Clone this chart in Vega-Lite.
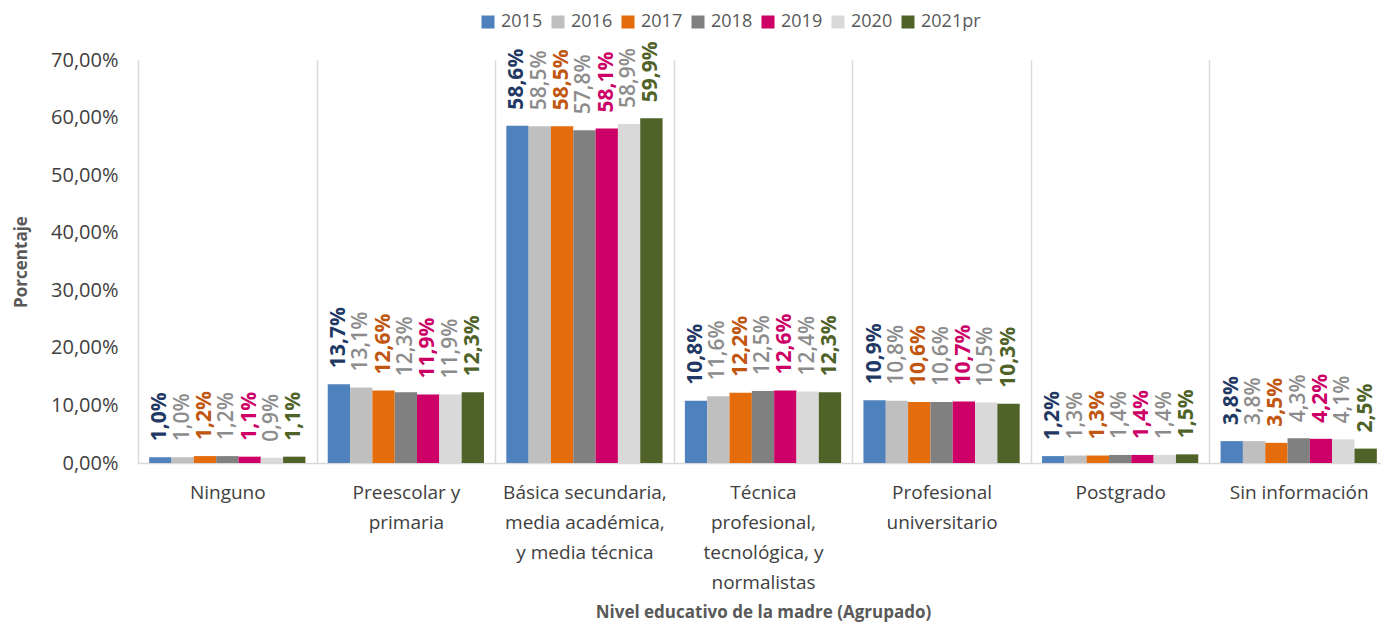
{
  "$schema": "https://vega.github.io/schema/vega-lite/v6.json",
  "width": 1243,
  "height": 403,
  "autosize": "none",
  "padding": {"left": 138, "top": 60, "right": 0, "bottom": 162},
  "config": {
    "locale": {"number": {"decimal": ",", "thousands": ".", "grouping": [3], "currency": ["$", ""]}},
    "font": "Open Sans",
    "view": {"stroke": null}
  },
  "data": {"values": [
    {"nivel": "Ninguno", "anio": "2015", "valor": 0.010},
    {"nivel": "Ninguno", "anio": "2016", "valor": 0.010},
    {"nivel": "Ninguno", "anio": "2017", "valor": 0.012},
    {"nivel": "Ninguno", "anio": "2018", "valor": 0.012},
    {"nivel": "Ninguno", "anio": "2019", "valor": 0.011},
    {"nivel": "Ninguno", "anio": "2020", "valor": 0.009},
    {"nivel": "Ninguno", "anio": "2021pr", "valor": 0.011},
    {"nivel": "Preescolar y primaria", "anio": "2015", "valor": 0.137},
    {"nivel": "Preescolar y primaria", "anio": "2016", "valor": 0.131},
    {"nivel": "Preescolar y primaria", "anio": "2017", "valor": 0.126},
    {"nivel": "Preescolar y primaria", "anio": "2018", "valor": 0.123},
    {"nivel": "Preescolar y primaria", "anio": "2019", "valor": 0.119},
    {"nivel": "Preescolar y primaria", "anio": "2020", "valor": 0.119},
    {"nivel": "Preescolar y primaria", "anio": "2021pr", "valor": 0.123},
    {"nivel": "Básica secundaria, media académica, y media técnica", "anio": "2015", "valor": 0.586},
    {"nivel": "Básica secundaria, media académica, y media técnica", "anio": "2016", "valor": 0.585},
    {"nivel": "Básica secundaria, media académica, y media técnica", "anio": "2017", "valor": 0.585},
    {"nivel": "Básica secundaria, media académica, y media técnica", "anio": "2018", "valor": 0.578},
    {"nivel": "Básica secundaria, media académica, y media técnica", "anio": "2019", "valor": 0.581},
    {"nivel": "Básica secundaria, media académica, y media técnica", "anio": "2020", "valor": 0.589},
    {"nivel": "Básica secundaria, media académica, y media técnica", "anio": "2021pr", "valor": 0.599},
    {"nivel": "Técnica profesional, tecnológica, y normalistas", "anio": "2015", "valor": 0.108},
    {"nivel": "Técnica profesional, tecnológica, y normalistas", "anio": "2016", "valor": 0.116},
    {"nivel": "Técnica profesional, tecnológica, y normalistas", "anio": "2017", "valor": 0.122},
    {"nivel": "Técnica profesional, tecnológica, y normalistas", "anio": "2018", "valor": 0.125},
    {"nivel": "Técnica profesional, tecnológica, y normalistas", "anio": "2019", "valor": 0.126},
    {"nivel": "Técnica profesional, tecnológica, y normalistas", "anio": "2020", "valor": 0.124},
    {"nivel": "Técnica profesional, tecnológica, y normalistas", "anio": "2021pr", "valor": 0.123},
    {"nivel": "Profesional universitario", "anio": "2015", "valor": 0.109},
    {"nivel": "Profesional universitario", "anio": "2016", "valor": 0.108},
    {"nivel": "Profesional universitario", "anio": "2017", "valor": 0.106},
    {"nivel": "Profesional universitario", "anio": "2018", "valor": 0.106},
    {"nivel": "Profesional universitario", "anio": "2019", "valor": 0.107},
    {"nivel": "Profesional universitario", "anio": "2020", "valor": 0.105},
    {"nivel": "Profesional universitario", "anio": "2021pr", "valor": 0.103},
    {"nivel": "Postgrado", "anio": "2015", "valor": 0.012},
    {"nivel": "Postgrado", "anio": "2016", "valor": 0.013},
    {"nivel": "Postgrado", "anio": "2017", "valor": 0.013},
    {"nivel": "Postgrado", "anio": "2018", "valor": 0.014},
    {"nivel": "Postgrado", "anio": "2019", "valor": 0.014},
    {"nivel": "Postgrado", "anio": "2020", "valor": 0.014},
    {"nivel": "Postgrado", "anio": "2021pr", "valor": 0.015},
    {"nivel": "Sin información", "anio": "2015", "valor": 0.038},
    {"nivel": "Sin información", "anio": "2016", "valor": 0.038},
    {"nivel": "Sin información", "anio": "2017", "valor": 0.035},
    {"nivel": "Sin información", "anio": "2018", "valor": 0.043},
    {"nivel": "Sin información", "anio": "2019", "valor": 0.042},
    {"nivel": "Sin información", "anio": "2020", "valor": 0.041},
    {"nivel": "Sin información", "anio": "2021pr", "valor": 0.025}
  ]},
  "encoding": {
    "x": {
      "field": "nivel", "type": "nominal",
      "sort": ["Ninguno", "Preescolar y primaria", "Básica secundaria, media académica, y media técnica", "Técnica profesional, tecnológica, y normalistas", "Profesional universitario", "Postgrado", "Sin información"],
      "scale": {"range": [0, 1250], "paddingInner": 0, "paddingOuter": 0},
      "axis": {
        "tickBand": "extent", "grid": true, "gridColor": "#D9D9D9", "gridWidth": 1.5,
        "ticks": false, "domainColor": "#D9D9D9", "domainWidth": 1.5,
        "labelAngle": 0, "labelFontSize": 19, "labelColor": "#404040", "labelLineHeight": 30, "labelPadding": 20,
        "labelExpr": "datum.value == 'Preescolar y primaria' ? ['Preescolar y', 'primaria'] : datum.value == 'Básica secundaria, media académica, y media técnica' ? ['Básica secundaria,', 'media académica,', 'y media técnica'] : datum.value == 'Técnica profesional, tecnológica, y normalistas' ? ['Técnica', 'profesional,', 'tecnológica, y', 'normalistas'] : datum.value == 'Profesional universitario' ? ['Profesional', 'universitario'] : datum.label",
        "title": "Nivel educativo de la madre (Agrupado)", "titleFontSize": 17, "titleFontWeight": "bold", "titleColor": "#595959", "titlePadding": 12
      }
    },
    "xOffset": {"field": "anio", "type": "nominal", "scale": {"domain": ["2015", "2016", "2017", "2018", "2019", "2020", "2021pr"], "paddingInner": 0, "paddingOuter": 0.5}},
    "y": {
      "field": "valor", "type": "quantitative",
      "scale": {"domain": [0, 0.7]},
      "axis": {
        "values": [0, 0.1, 0.2, 0.3, 0.4, 0.5, 0.6, 0.7], "format": ".2%",
        "grid": false, "domain": false, "ticks": false,
        "labelFontSize": 20, "labelColor": "#404040", "labelPadding": 20,
        "title": "Porcentaje", "titleFontSize": 17, "titleFontWeight": "bold", "titleColor": "#595959", "titlePadding": 20
      }
    }
  },
  "layer": [
    {
      "mark": {"type": "bar"},
      "encoding": {
        "color": {
          "field": "anio", "type": "nominal",
          "scale": {"domain": ["2015", "2016", "2017", "2018", "2019", "2020", "2021pr"], "range": ["#4F81BD", "#BFBFBF", "#E46C0A", "#808080", "#CC0066", "#D9D9D9", "#4F6228"]},
          "legend": {
            "orient": "none", "legendX": 341, "legendY": -47, "direction": "horizontal", "title": null,
            "symbolType": "square", "symbolSize": 169, "symbolStrokeWidth": 0, "symbolOpacity": 1,
            "labelFontSize": 18, "labelColor": "#595959", "labelOffset": 4, "columnPadding": 6
          }
        }
      }
    },
    {
      "transform": [{"filter": {"field": "anio", "oneOf": ["2015", "2017", "2019", "2021pr"]}}],
      "mark": {"type": "text", "angle": 270, "align": "left", "baseline": "middle", "dx": 16, "fontSize": 21, "fontWeight": "bold"},
      "encoding": {
        "text": {"field": "valor", "type": "quantitative", "format": ".1%"},
        "color": {
          "field": "anio", "type": "nominal",
          "scale": {"domain": ["2015", "2017", "2019", "2021pr"], "range": ["#1F3864", "#C0560F", "#CC0066", "#4F6228"]},
          "legend": null
        }
      }
    },
    {
      "transform": [{"filter": {"field": "anio", "oneOf": ["2016", "2018", "2020"]}}],
      "mark": {"type": "text", "angle": 270, "align": "left", "baseline": "middle", "dx": 16, "fontSize": 21, "fontWeight": 600, "color": "#8C8C8C"},
      "encoding": {
        "text": {"field": "valor", "type": "quantitative", "format": ".1%"}
      }
    }
  ],
  "resolve": {"scale": {"color": "independent"}}
}
